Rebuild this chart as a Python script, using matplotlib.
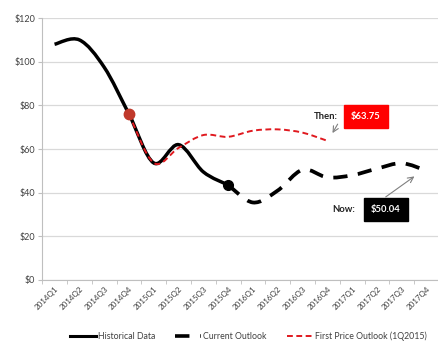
import numpy as np
import matplotlib
matplotlib.use("Agg")
import matplotlib.pyplot as plt
from matplotlib.path import Path
from matplotlib.patches import PathPatch

plt.rcParams['font.family'] = ['Lato', 'DejaVu Sans']

quarters = ["2014Q1", "2014Q2", "2014Q3", "2014Q4",
            "2015Q1", "2015Q2", "2015Q3", "2015Q4",
            "2016Q1", "2016Q2", "2016Q3", "2016Q4",
            "2017Q1", "2017Q2", "2017Q3", "2017Q4"]

# Historical: 2014Q1 .. 2015Q4
historical = [108, 110, 97.5, 76, 53.6, 62, 49.5, 43.5]
# Current outlook: 2015Q4 .. 2017Q4
current = [43.5, 35.5, 41, 50.5, 47, 48, 51, 53.5, 50.04]
# First price outlook (1Q2015): 2014Q4 .. 2016Q4
first = [76, 53.6, 60.5, 66.4, 65.6, 68.4, 69, 67.5, 63.75]

yticks = [0, 20, 40, 60, 80, 100, 120]


def smooth_path(xs, ys):
    xs = np.asarray(xs, float)
    ys = np.asarray(ys, float)
    pts = np.column_stack([xs, ys])
    n = len(pts)
    verts = [pts[0]]
    codes = [Path.MOVETO]
    for i in range(n - 1):
        p0 = pts[i - 1] if i > 0 else pts[i]
        p1 = pts[i]
        p2 = pts[i + 1]
        p3 = pts[i + 2] if i + 2 < n else pts[i + 1]
        c1 = p1 + (p2 - p0) / 6.0
        c2 = p2 - (p3 - p1) / 6.0
        verts += [c1, c2, p2]
        codes += [Path.CURVE4] * 3
    return Path(verts, codes)


fig = plt.figure(figsize=(4.39, 3.41), dpi=100)
ax = fig.add_axes([0.096, 0.179, 0.904, 0.768])

x_all = np.arange(len(quarters))
x_hist = x_all[:len(historical)]
x_cur = x_all[7:7 + len(current)]
x_first = x_all[3:3 + len(first)]

ax.add_patch(PathPatch(smooth_path(x_hist, historical), fill=False,
                       edgecolor='black', lw=2.5, zorder=3, capstyle='butt'))
ax.add_patch(PathPatch(smooth_path(x_cur, current), fill=False,
                       edgecolor='black', lw=2.7, linestyle=(0, (3.8, 2.8)), zorder=3))
ax.add_patch(PathPatch(smooth_path(x_first, first), fill=False,
                       edgecolor='#e0191f', lw=1.4, linestyle=(0, (3, 1.8)), zorder=4))

ax.plot([x_first[0]], [first[0]], 'o', color='#c0392b', ms=7.5, zorder=5)
ax.plot([x_cur[0]], [current[0]], 'o', color='black', ms=7, zorder=5)

# legend proxies
h1, = ax.plot([], [], color='black', lw=2.2, label='Historical Data')
h2, = ax.plot([], [], color='black', lw=2.6, ls=(0, (4, 3)), label='Current Outlook')
h3, = ax.plot([], [], color='#e0191f', lw=1.4, ls=(0, (3, 1.8)), label='First Price Outlook (1Q2015)')

ax.set_xlim(-0.5, len(quarters) - 0.5)
ax.set_ylim(0, 120)
ax.set_yticks(yticks)
ax.set_yticklabels([f"${v}" for v in yticks], fontsize=6.5, color='#404040')
ax.set_xticks(x_all)
ax.set_xticklabels(quarters, rotation=45, ha='right', va='top', fontsize=5.8,
                   color='#404040', rotation_mode='anchor')
ax.set_xticks(np.arange(-0.5, len(quarters)), minor=True)
ax.tick_params(axis='x', which='major', length=0, pad=4)
ax.tick_params(axis='x', which='minor', length=3, color='#bfbfbf', direction='out')
ax.tick_params(axis='y', length=3, color='#bfbfbf', pad=2)

ax.grid(axis='y', color='#d9d9d9', lw=0.9)
ax.set_axisbelow(True)
for s in ['top', 'right']:
    ax.spines[s].set_visible(False)
ax.spines['left'].set_color('#bfbfbf')
ax.spines['bottom'].set_color('#bfbfbf')

# annotations
ax.text(10.95, 75, "Then:", fontsize=6.8, fontweight='bold', ha='center', va='center', color='#222222')
ax.text(12.56, 75, "$63.75", fontsize=6.8, fontweight='bold', ha='center', va='center', color='white',
        bbox=dict(boxstyle='square,pad=0.75', fc='#ff0000', ec='#ff0000'))
ax.annotate("", xy=(11.15, 66.2), xytext=(11.47, 72.5),
            arrowprops=dict(arrowstyle='->', color='#808080', lw=0.8))

ax.text(11.65, 32.3, "Now:", fontsize=6.8, fontweight='bold', ha='center', va='center', color='#222222')
ax.text(13.36, 32.3, "$50.04", fontsize=6.8, fontweight='bold', ha='center', va='center', color='white',
        bbox=dict(boxstyle='square,pad=0.75', fc='black', ec='black'))
ax.annotate("", xy=(14.6, 48.2), xytext=(13.26, 37.3),
            arrowprops=dict(arrowstyle='->', color='#808080', lw=0.8))

fig.legend(handles=[h1, h2, h3], loc='lower center', bbox_to_anchor=(0.565, -0.022), ncol=3,
           frameon=False, fontsize=6.3, handlelength=3.0, columnspacing=2.3, handletextpad=0.2,
           labelcolor='#404040')

fig.savefig("out.png", dpi=100)
